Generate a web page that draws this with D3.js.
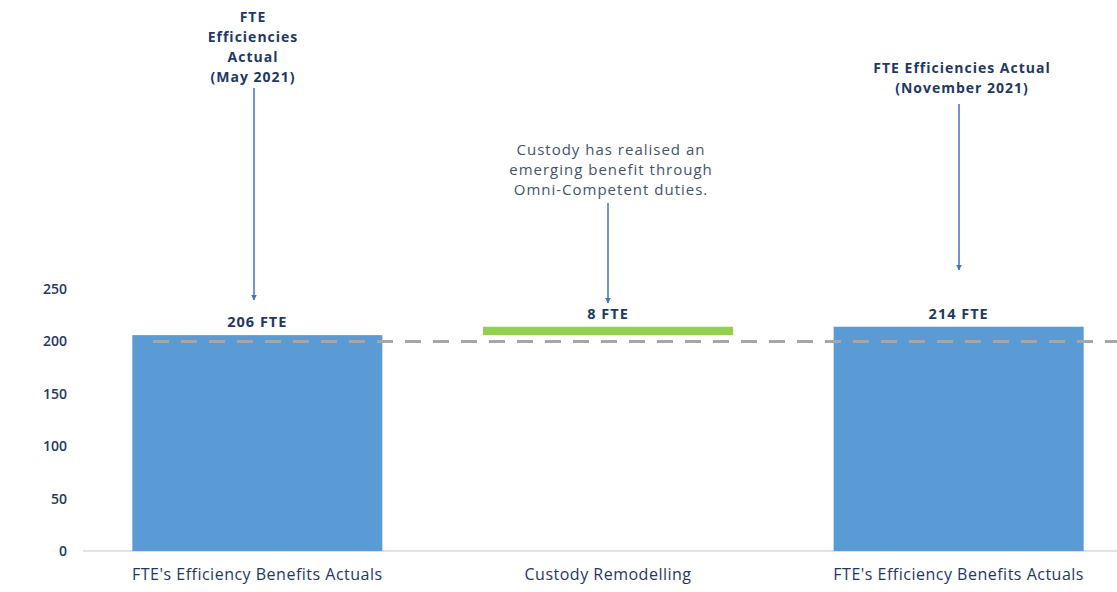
<!DOCTYPE html>
<html>
<head>
<meta charset="utf-8">
<script src="https://cdn.jsdelivr.net/npm/d3@7"></script>
<style>
  body { margin: 0; background: #fff; }
  text { font-family: "Open Sans", "DejaVu Sans", sans-serif; }
</style>
</head>
<body>
<div id="chart"></div>
<script>
const CATEGORIES = ["FTE's Efficiency Benefits Actuals", "Custody Remodelling", "FTE's Efficiency Benefits Actuals"];
const VALUES = [206, 8, 214];
const KINDS = ["total", "delta", "total"];
const VALUE_LABELS = ["206 FTE", "8 FTE", "214 FTE"];
const Y_TICKS = [0, 50, 100, 150, 200, 250];
const BASELINE = 200;
const NOTES = [
    { lines: ["FTE", "Efficiencies", "Actual", "(May 2021)"], bold: true, top: 17, x: 253, arrowX: 254, arrowFrom: 88, arrowTo: 300 },
    { lines: ["Custody has realised an", "emerging benefit through", "Omni-Competent duties."], bold: false, top: 150, x: 611, arrowX: 608, arrowFrom: 203, arrowTo: 303 },
    { lines: ["FTE Efficiencies Actual", "(November 2021)"], bold: true, top: 68, x: 962, arrowX: 959, arrowFrom: 104, arrowTo: 270 }
];

const W = 1117, H = 592;
const NAVY = "#1f3864";

const svg = d3.select("#chart").append("svg")
    .attr("width", W)
    .attr("height", H);

const x = d3.scaleBand()
    .domain(d3.range(CATEGORIES.length))
    .range([82, 1134])
    .paddingInner(0.287)
    .paddingOuter(0.1435);

const y = d3.scaleLinear()
    .domain([0, 250])
    .range([551, 289]);

// running totals for the waterfall
let running = 0;
const bars = VALUES.map((v, i) => {
    let lo, hi;
    if (KINDS[i] === "total") { lo = 0; hi = v; running = v; }
    else { lo = running; hi = running + v; running = hi; }
    return { i, lo, hi, kind: KINDS[i], label: VALUE_LABELS[i] };
});

// y axis
const yAxis = svg.append("g")
    .attr("transform", "translate(67,0)")
    .call(d3.axisLeft(y).tickValues(Y_TICKS).tickSize(0).tickPadding(0));
yAxis.select(".domain").remove();
yAxis.selectAll("text")
    .attr("fill", NAVY)
    .style("font-size", "14px")
    .style("font-weight", "600");

// x axis line
svg.append("line")
    .attr("x1", 83).attr("x2", W)
    .attr("y1", y(0)).attr("y2", y(0))
    .attr("stroke", "#d9d9d9")
    .attr("stroke-width", 1.5);

svg.append("g").selectAll("text")
    .data(CATEGORIES)
    .join("text")
    .attr("x", (d, i) => x(i) + x.bandwidth() / 2)
    .attr("y", 580)
    .attr("text-anchor", "middle")
    .attr("fill", NAVY)
    .style("font-size", "16px")
    .style("letter-spacing", "0.5px")
    .text(d => d);

// bars
svg.append("g").selectAll("rect")
    .data(bars)
    .join("rect")
    .attr("x", d => x(d.i))
    .attr("y", d => y(d.hi))
    .attr("width", x.bandwidth())
    .attr("height", d => y(d.lo) - y(d.hi))
    .attr("fill", d => d.kind === "total" ? "#5b9bd5" : "#92d050");

// baseline dashed
svg.append("line")
    .attr("x1", 153).attr("x2", W)
    .attr("y1", y(BASELINE)).attr("y2", y(BASELINE))
    .attr("stroke", "#a6a6a6")
    .attr("stroke-width", 3)
    .attr("stroke-dasharray", "16,12");

// value labels
svg.append("g").selectAll("text")
    .data(bars)
    .join("text")
    .attr("x", d => x(d.i) + x.bandwidth() / 2)
    .attr("y", d => y(d.hi) - 8)
    .attr("text-anchor", "middle")
    .attr("fill", NAVY)
    .style("font-size", "14.5px")
    .style("font-weight", "700")
    .style("letter-spacing", "1px")
    .text(d => d.label);

// annotations with arrows
svg.append("defs").append("marker")
    .attr("id", "arrow")
    .attr("viewBox", "0 0 10 10")
    .attr("refX", 9).attr("refY", 5)
    .attr("markerWidth", 4).attr("markerHeight", 4)
    .attr("orient", "auto")
    .append("path")
    .attr("d", "M0,0L10,5L0,10Z")
    .attr("fill", "#4472c4");

const notes = svg.append("g").selectAll("g")
    .data(NOTES)
    .join("g");

notes.each(function (n) {
    const g = d3.select(this);
    g.selectAll("text")
        .data(n.lines)
        .join("text")
        .attr("x", n.x)
        .attr("y", (d, k) => n.top + 5 + k * 20)
        .attr("text-anchor", "middle")
        .attr("fill", n.bold ? NAVY : "#44546a")
        .style("font-size", n.bold ? "14px" : "15px")
        .style("font-weight", n.bold ? "700" : "400")
        .style("letter-spacing", "1px")
        .text(d => d);
    g.append("line")
        .attr("x1", n.arrowX).attr("x2", n.arrowX)
        .attr("y1", n.arrowFrom).attr("y2", n.arrowTo)
        .attr("stroke", "#4472c4")
        .attr("stroke-width", 1.5)
        .attr("marker-end", "url(#arrow)");
});
</script>
</body>
</html>
